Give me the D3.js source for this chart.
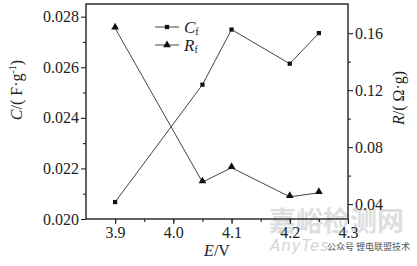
<!DOCTYPE html>
<html>
<head>
<meta charset="utf-8">
<script src="https://cdn.jsdelivr.net/npm/d3@7"></script>
<style>
  body { margin: 0; background: #fff; }
  svg { display: block; font-family: "Liberation Serif", "DejaVu Serif", serif; }
</style>
</head>
<body>
<div id="chart"></div>
<script>
  const width = 417
      , height = 266
      , margin = {top: 4, right: 69, bottom: 47, left: 86}
      , lineColor = '#444'
      , textColor = '#222'
      , serif = '"Liberation Serif", "DejaVu Serif", serif'
      ;

  // data
  const voltages = [3.9, 4.05, 4.1, 4.2, 4.25];
  const capValues = [0.02067, 0.02531, 0.02749, 0.02614, 0.02735];
  const resValues = [0.1635, 0.0554, 0.0655, 0.0451, 0.0479];
  const xTicks = [3.9, 4.0, 4.1, 4.2, 4.3];
  const leftTicks = [0.020, 0.022, 0.024, 0.026, 0.028];
  const rightTicks = [0.04, 0.08, 0.12, 0.16];

  const x = d3.scaleLinear().domain([3.85, 4.3]).range([margin.left, width - margin.right]);
  const yL = d3.scaleLinear().domain([0.020, 0.0285]).range([height - margin.bottom, margin.top]);
  const yR = d3.scaleLinear().domain([0.0295, 0.1805]).range([height - margin.bottom, margin.top]);

  const svg = d3.select('#chart').append('svg')
      .attr('width', width)
      .attr('height', height);

  // watermark sits underneath everything
  svg.append('text')
    .attr('x', 269).attr('y', 231)
    .attr('fill', '#dedede')
    .style('font-family', '"Noto Sans CJK SC", sans-serif')
    .style('font-size', '27px')
    .style('font-weight', 'bold')
    .text('嘉峪检测网');
  svg.append('text')
    .attr('x', 270).attr('y', 251)
    .attr('fill', '#d4d4d4')
    .style('font-family', '"DejaVu Sans", sans-serif')
    .style('font-size', '15px')
    .style('font-style', 'italic')
    .style('letter-spacing', '1px')
    .text('AnyTes');
  svg.append('text')
    .attr('x', 327).attr('y', 250)
    .attr('fill', '#555')
    .style('font-family', '"Noto Sans CJK SC", sans-serif')
    .style('font-size', '9px')
    .text('公众号 锂电联盟技术');

  // minor ticks
  const minorX = d3.range(3.85, 4.31, 0.05).filter(v => v > 3.86);
  const minorL = d3.range(0.021, 0.0285, 0.002);
  const minorR = d3.range(0.06, 0.18, 0.04);

  svg.append('g')
    .attr('transform', `translate(0,${height - margin.bottom})`)
    .call(d3.axisBottom(x).tickValues(minorX).tickSize(3).tickFormat(''))
    .call(g => g.select('.domain').remove());
  svg.append('g')
    .attr('transform', `translate(${margin.left},0)`)
    .call(d3.axisLeft(yL).tickValues(minorL).tickSize(3).tickFormat(''))
    .call(g => g.select('.domain').remove());
  svg.append('g')
    .attr('transform', `translate(${width - margin.right},0)`)
    .call(d3.axisRight(yR).tickValues(minorR).tickSize(3).tickFormat(''))
    .call(g => g.select('.domain').remove());

  const xAxis = svg.append('g')
    .attr('transform', `translate(0,${height - margin.bottom})`)
    .call(d3.axisBottom(x).tickValues(xTicks).tickSize(5).tickPadding(3).tickFormat(d3.format('.1f')));
  const lAxis = svg.append('g')
    .attr('transform', `translate(${margin.left},0)`)
    .call(d3.axisLeft(yL).tickValues(leftTicks).tickSize(5).tickPadding(2).tickFormat(d3.format('.3f')));
  const rAxis = svg.append('g')
    .attr('transform', `translate(${width - margin.right},0)`)
    .call(d3.axisRight(yR).tickValues(rightTicks).tickSize(5).tickPadding(2).tickFormat(d3.format('.2f')));

  [xAxis, lAxis, rAxis].forEach(g => {
    g.attr('font-family', serif);
    g.selectAll('text').style('font-size', '16px').attr('fill', textColor);
    g.select('.domain').remove();
  });
  svg.selectAll('.tick line').attr('stroke', textColor).attr('stroke-width', 1.1);

  // frame
  svg.append('rect')
    .attr('x', margin.left)
    .attr('y', margin.top)
    .attr('width', width - margin.left - margin.right)
    .attr('height', height - margin.top - margin.bottom)
    .attr('fill', 'none')
    .attr('stroke', textColor)
    .attr('stroke-width', 1.4);

  const capLine = d3.line().x((d, i) => x(voltages[i])).y(d => yL(d));
  const resLine = d3.line().x((d, i) => x(voltages[i])).y(d => yR(d));

  svg.append('path')
    .attr('d', capLine(capValues))
    .attr('fill', 'none')
    .attr('stroke', lineColor)
    .attr('stroke-width', 1);
  svg.append('path')
    .attr('d', resLine(resValues))
    .attr('fill', 'none')
    .attr('stroke', lineColor)
    .attr('stroke-width', 1);

  const square = d3.symbol().type(d3.symbolSquare).size(18);
  const triangle = d3.symbol().type(d3.symbolTriangle).size(26);

  svg.append('g')
    .selectAll('path')
    .data(capValues)
    .join('path')
      .attr('d', square)
      .attr('transform', (d, i) => `translate(${x(voltages[i])},${yL(d)})`)
      .attr('fill', '#111');
  svg.append('g')
    .selectAll('path')
    .data(resValues)
    .join('path')
      .attr('d', triangle)
      .attr('transform', (d, i) => `translate(${x(voltages[i])},${yR(d) - 1})`)
      .attr('fill', '#111');

  // legend
  const legend = svg.append('g').attr('fill', textColor);
  [{sym: square, y: 27, name: 'C'}, {sym: triangle, y: 45, name: 'R'}].forEach(item => {
    legend.append('line')
      .attr('x1', 155).attr('x2', 179)
      .attr('y1', item.y).attr('y2', item.y)
      .attr('stroke', lineColor);
    legend.append('path')
      .attr('d', item.sym)
      .attr('transform', `translate(167,${item.y})`)
      .attr('fill', '#111');
    const t = legend.append('text')
      .attr('x', 184)
      .attr('y', item.y + 6)
      .style('font-size', '17px');
    t.append('tspan').attr('font-style', 'italic').text(item.name);
    t.append('tspan').style('font-size', '10px').attr('dy', 2).text('f');
  });

  // axis titles
  const leftTitle = svg.append('text')
    .attr('transform', 'translate(22,90) rotate(-90)')
    .attr('text-anchor', 'middle')
    .attr('fill', textColor)
    .style('font-size', '16px');
  leftTitle.append('tspan').attr('font-style', 'italic').text('C');
  leftTitle.append('tspan').text('/( F·g');
  leftTitle.append('tspan').style('font-size', '10px').attr('dy', -6).text('-1');
  leftTitle.append('tspan').attr('dy', 6).text(')');

  const rightTitle = svg.append('text')
    .attr('transform', 'translate(404,98) rotate(-90)')
    .attr('text-anchor', 'middle')
    .attr('fill', textColor)
    .style('font-size', '16px');
  rightTitle.append('tspan').attr('font-style', 'italic').text('R');
  rightTitle.append('tspan').text('/( Ω·g)');

  const xTitle = svg.append('text')
    .attr('x', (margin.left + width - margin.right) / 2)
    .attr('y', 256)
    .attr('text-anchor', 'middle')
    .attr('fill', textColor)
    .style('font-size', '16px');
  xTitle.append('tspan').attr('font-style', 'italic').text('E');
  xTitle.append('tspan').text('/V');
</script>
</body>
</html>
